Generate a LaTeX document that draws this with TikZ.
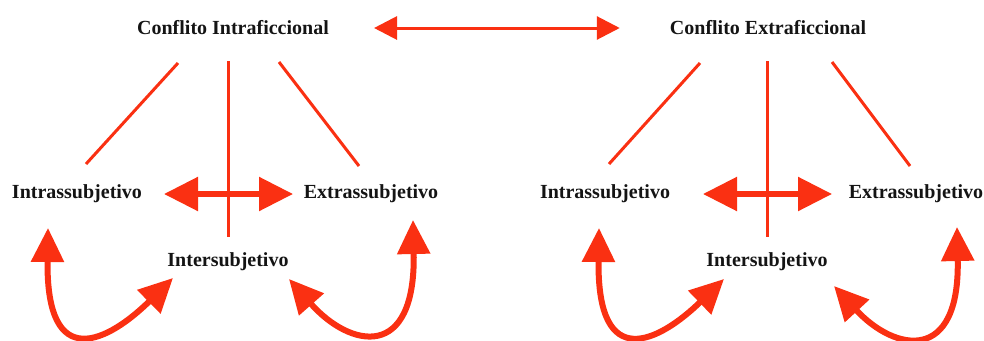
\documentclass[tikz,border=0pt]{standalone}
\usepackage{fontspec}
\setmainfont{Liberation Serif}
\usetikzlibrary{arrows.meta}
\definecolor{arrred}{RGB}{250,48,18}
\definecolor{txt}{RGB}{20,20,20}
\begin{document}
\begin{tikzpicture}[x=1pt,y=-1pt,
  lbl/.style={inner sep=0pt,text=txt,font=\fontsize{20}{22}\selectfont\bfseries},
  thinline/.style={draw=arrred,line width=3pt},
  toparrow/.style={draw=arrred,line width=3pt,{Triangle[length=23pt,width=23pt]}-{Triangle[length=23pt,width=23pt]}},
  bigarrow/.style={draw=arrred,line width=5.5pt,{Triangle[length=34pt,width=33pt]}-{Triangle[length=34pt,width=33pt]}},
  curvearrow/.style={draw=arrred,line width=6pt,{Triangle[length=34pt,width=32pt]}-{Triangle[length=34pt,width=32pt]}}]
\useasboundingbox (0,0) rectangle (984,340);
% nodes
\node[lbl] (ci) at (233,28) {Conflito Intraficcional};
\node[lbl] (ce) at (768,28) {Conflito Extraficcional};
\node[lbl] (ia) at (77,194) {Intrassubjetivo};
\node[lbl] (ea) at (371,194) {Extrassubjetivo};
\node[lbl] (ra) at (228,262) {Intersubjetivo};
\node[lbl] (ib) at (605,194) {Intrassubjetivo};
\node[lbl] (eb) at (916,194) {Extrassubjetivo};
\node[lbl] (rb) at (767,262) {Intersubjetivo};
% coordinates for line ends
\coordinate (a1) at (178,63); \coordinate (a2) at (86,164);
\coordinate (a3) at (228,61); \coordinate (a4) at (228,237);
\coordinate (a5) at (279,62); \coordinate (a6) at (359,166);
\coordinate (b1) at (700,63); \coordinate (b2) at (609,164);
\coordinate (b3) at (767,61); \coordinate (b4) at (767,237);
\coordinate (b5) at (832,62); \coordinate (b6) at (910,166);
% top arrow
\draw[toparrow] ([xshift=45pt]ci.east) -- ([xshift=-50pt]ce.west);
% lines
\draw[thinline] (a1) -- (a2);
\draw[thinline] (a3) -- (a4);
\draw[thinline] (a5) -- (a6);
\draw[thinline] (b1) -- (b2);
\draw[thinline] (b3) -- (b4);
\draw[thinline] (b5) -- (b6);
% horizontal arrows
\coordinate (ha1) at (164,194); \coordinate (ha2) at (293,194);
\coordinate (hb1) at (703,194); \coordinate (hb2) at (832,194);
\draw[bigarrow] (ha1) -- (ha2);
\draw[bigarrow] (hb1) -- (hb2);
% curved arrows left group
\coordinate (ca1) at (48,228); \coordinate (ca2) at (173,278);
\coordinate (ca3) at (289,279); \coordinate (ca4) at (413,220);
\draw[curvearrow] (ca1) .. controls (46,374) and (108,342) .. (ca2);
\draw[curvearrow] (ca3) .. controls (350,348) and (416,362) .. (ca4);
% curved arrows right group
\coordinate (cb1) at (599,228); \coordinate (cb2) at (724,279);
\coordinate (cb3) at (834,286); \coordinate (cb4) at (957,227);
\draw[curvearrow] (cb1) .. controls (597,374) and (659,342) .. (cb2);
\draw[curvearrow] (cb3) .. controls (895,352) and (960,364) .. (cb4);
\end{tikzpicture}
\end{document}
